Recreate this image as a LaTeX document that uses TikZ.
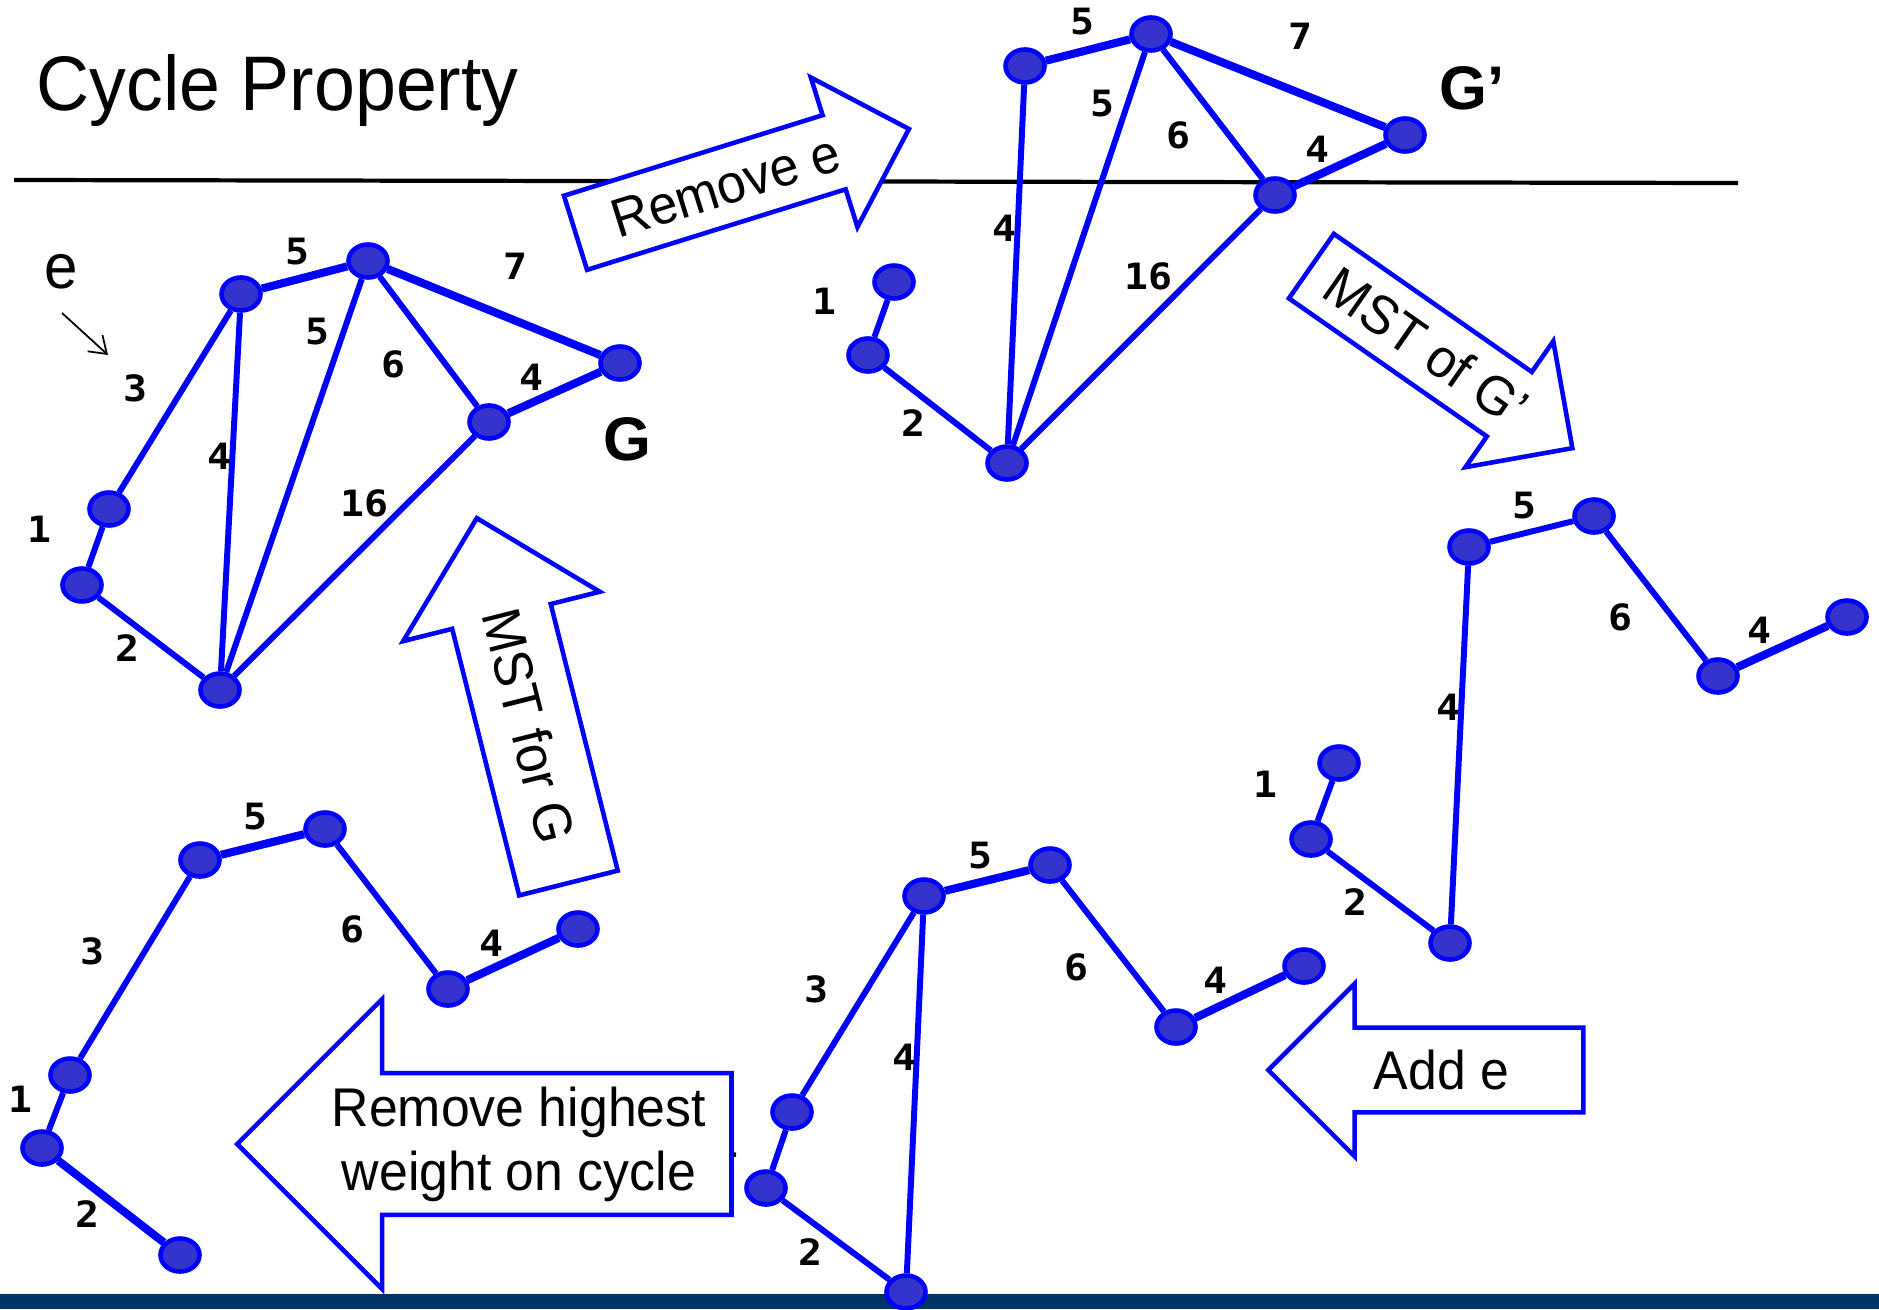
\documentclass[tikz,border=0pt]{standalone}
\usepackage{fontspec}
\setmainfont[FakeStretch=0.95]{Liberation Sans}
\newfontfamily\wtfont[FakeStretch=1.1]{DejaVu Sans Mono}
\newfontfamily\gfont{Liberation Sans}
\usetikzlibrary{shapes.geometric, shapes.arrows, arrows.meta, calc, backgrounds}
\definecolor{vtxfill}{RGB}{51,51,204}
\definecolor{barnavy}{RGB}{0,51,102}

\begin{document}
\begin{tikzpicture}[
    x=0.01cm, y=-0.01cm,
    vtx/.style={ellipse, draw=blue, fill=vtxfill, line width=1.3pt,
        minimum width=0.39cm, minimum height=0.33cm, inner sep=0pt},
    edge/.style={blue, line width=1.7pt},
    heavy/.style={blue, line width=2.3pt},
    wt/.style={font=\wtfont\bfseries\fontsize{10.3}{12}\selectfont, inner sep=0pt},
    gname/.style={font=\gfont\bfseries\fontsize{17.5}{20}\selectfont, inner sep=0pt},
    bigarrow/.style n args={4}{single arrow, draw=blue, fill=white,
        line width=1.3pt, anchor=tip, rotate=#1, minimum height=#2,
        minimum width=#3, inner xsep=0pt, inner ysep=#4/2,
        single arrow head extend=(#3-#4)/2, single arrow head indent=0pt},
    tag/.style={font=\fontsize{15.5}{18.2}\selectfont, align=center, inner sep=0pt}
]
    \useasboundingbox (0,0) rectangle (1879,1309);

    % Title and rule
    \node[font=\fontsize{22}{26}\selectfont, anchor=base west, inner sep=0pt] (title) at (36,110) {Cycle Property};
    \coordinate (rule_l) at (14,180);
    \coordinate (rule_r) at (1738,183);
    \coordinate (bar_l) at (0,1294);
    \coordinate (bar_r) at (1879,1309);

    % Graph G
    \node[vtx] (g_a) at (241,294) {};
    \node[vtx] (g_b) at (368,261) {};
    \node[vtx] (g_c) at (620,363) {};
    \node[vtx] (g_d) at (489,422) {};
    \node[vtx] (g_u) at (109,509) {};
    \node[vtx] (g_v) at (82,585) {};
    \node[vtx] (g_w) at (220,690) {};
    \node[gname] (g_name) at (627,439) {G};
    \node[font=\fontsize{18}{20}\selectfont, inner sep=0pt] (e_name) at (61,272) {e};
    \coordinate (e_from) at (62,313);
    \coordinate (e_to) at (108,355);
    \draw[line width=0.5pt, -{Straight Barb[length=1.6mm, width=2.2mm]}] (e_from) -- (e_to);

    % Graph G' (e removed)
    \node[vtx] (h_a) at (1025,66) {};
    \node[vtx] (h_b) at (1151,34) {};
    \node[vtx] (h_c) at (1405,135) {};
    \node[vtx] (h_d) at (1275,195) {};
    \node[vtx] (h_u) at (894,282) {};
    \node[vtx] (h_v) at (868,355) {};
    \node[vtx] (h_w) at (1007,463) {};
    \node[gname] (h_name) at (1472,88) {G’};

    % MST of G'
    \node[vtx] (m_a) at (1469,547) {};
    \node[vtx] (m_b) at (1594,516) {};
    \node[vtx] (m_d) at (1718,676) {};
    \node[vtx] (m_c) at (1847,617) {};
    \node[vtx] (m_u) at (1339,763) {};
    \node[vtx] (m_v) at (1311,839) {};
    \node[vtx] (m_w) at (1450,943) {};

    % MST of G' plus e
    \node[vtx] (p_a) at (924,896) {};
    \node[vtx] (p_b) at (1050,865) {};
    \node[vtx] (p_d) at (1176,1027) {};
    \node[vtx] (p_c) at (1304,966) {};
    \node[vtx] (p_u) at (792,1112) {};
    \node[vtx] (p_v) at (766,1188) {};
    \node[vtx] (p_w) at (906,1292) {};

    % MST for G
    \node[vtx] (r_a) at (200,860) {};
    \node[vtx] (r_b) at (325,829) {};
    \node[vtx] (r_d) at (448,989) {};
    \node[vtx] (r_c) at (578,929) {};
    \node[vtx] (r_u) at (70,1075) {};
    \node[vtx] (r_v) at (42,1148) {};
    \node[vtx] (r_w) at (180,1255) {};

    \begin{pgfonlayer}{background}
        \fill[barnavy] (bar_l) rectangle (bar_r);
        \draw[line width=1.2pt] (rule_l) -- (rule_r);
        % edges of G
        \draw[edge] (g_u) -- (g_a);
        \draw[edge] (g_u) -- (g_v);
        \draw[edge] (g_v) -- (g_w);
        \draw[heavy] (g_a) -- (g_b);
        \draw[edge] (g_a) -- (g_w);
        \draw[edge] (g_b) -- (g_w);
        \draw[edge] (g_b) -- (g_d);
        \draw[heavy] (g_b) -- (g_c);
        \draw[heavy] (g_c) -- (g_d);
        \draw[edge] (g_d) -- (g_w);
        % edges of G'
        \draw[edge] (h_u) -- (h_v);
        \draw[edge] (h_v) -- (h_w);
        \draw[heavy] (h_a) -- (h_b);
        \draw[edge] (h_a) -- (h_w);
        \draw[edge] (h_b) -- (h_w);
        \draw[edge] (h_b) -- (h_d);
        \draw[heavy] (h_b) -- (h_c);
        \draw[heavy] (h_c) -- (h_d);
        \draw[edge] (h_d) -- (h_w);
        % edges of MST of G'
        \draw[edge] (m_u) -- (m_v);
        \draw[edge] (m_v) -- (m_w);
        \draw[edge] (m_w) -- (m_a);
        \draw[edge] (m_a) -- (m_b);
        \draw[edge] (m_b) -- (m_d);
        \draw[heavy] (m_d) -- (m_c);
        % edges with e added
        \draw[edge] (p_u) -- (p_a);
        \draw[edge] (p_u) -- (p_v);
        \draw[edge] (p_v) -- (p_w);
        \draw[edge] (p_w) -- (p_a);
        \draw[heavy] (p_a) -- (p_b);
        \draw[edge] (p_b) -- (p_d);
        \draw[heavy] (p_d) -- (p_c);
        % edges of MST for G
        \draw[edge] (r_u) -- (r_a);
        \draw[edge] (r_u) -- (r_v);
        \draw[heavy] (r_v) -- (r_w);
        \draw[heavy] (r_a) -- (r_b);
        \draw[edge] (r_b) -- (r_d);
        \draw[heavy] (r_d) -- (r_c);
    \end{pgfonlayer}

    % Weights
    \node[wt] (g_ab_w) at (297,252) {5};
    \node[wt] (g_bc_w) at (515,266) {7};
    \node[wt] (g_bw_w) at (317,332) {5};
    \node[wt] (g_bd_w) at (393,364) {6};
    \node[wt] (g_cd_w) at (531,377) {4};
    \node[wt] (g_ua_w) at (135,388) {3};
    \node[wt] (g_aw_w) at (219,456) {4};
    \node[wt] (g_dw_w) at (364,503) {16};
    \node[wt] (g_uv_w) at (39,529) {1};
    \node[wt] (g_vw_w) at (127,648) {2};

    \node[wt] (h_ab_w) at (1082,22) {5};
    \node[wt] (h_bc_w) at (1300,36) {7};
    \node[wt] (h_bw_w) at (1102,104) {5};
    \node[wt] (h_bd_w) at (1178,135) {6};
    \node[wt] (h_cd_w) at (1317,149) {4};
    \node[wt] (h_aw_w) at (1004,228) {4};
    \node[wt] (h_dw_w) at (1148,276) {16};
    \node[wt] (h_uv_w) at (824,301) {1};
    \node[wt] (h_vw_w) at (913,423) {2};

    \node[wt] (m_ab_w) at (1524,506) {5};
    \node[wt] (m_bd_w) at (1620,617) {6};
    \node[wt] (m_dc_w) at (1759,630) {4};
    \node[wt] (m_wa_w) at (1448,707) {4};
    \node[wt] (m_uv_w) at (1265,784) {1};
    \node[wt] (m_vw_w) at (1355,902) {2};

    \node[wt] (p_ab_w) at (980,856) {5};
    \node[wt] (p_ua_w) at (816,989) {3};
    \node[wt] (p_bd_w) at (1076,967) {6};
    \node[wt] (p_dc_w) at (1215,980) {4};
    \node[wt] (p_wa_w) at (904,1057) {4};
    \node[wt] (p_uv_w) at (726,1144) {1};
    \node[wt] (p_vw_w) at (810,1252) {2};

    \node[wt] (r_ab_w) at (255,817) {5};
    \node[wt] (r_ua_w) at (92,951) {3};
    \node[wt] (r_bd_w) at (352,929) {6};
    \node[wt] (r_dc_w) at (491,943) {4};
    \node[wt] (r_uv_w) at (20,1099) {1};
    \node[wt] (r_vw_w) at (87,1214) {2};

    % Block arrows
    \node[bigarrow={17.3}{3.49cm}{1.52cm}{0.73cm}] (remove_e) at (912,128) {};
    \node[tag, rotate=17.3] (remove_e_txt) at ($(remove_e.tail)!0.45!(remove_e.tip)$) {Remove e};

    \node[bigarrow={-34.9}{3.18cm}{1.49cm}{0.74cm}] (mst_gp) at (1575,450) {};
    \node[tag, rotate=-34.9] (mst_gp_txt) at ($(mst_gp.tail)!0.44!(mst_gp.tip)$) {MST of G'};

    \node[bigarrow={104.1}{3.76cm}{1.98cm}{0.97cm}] (mst_g) at (476,515) {};
    \node[tag, rotate=-75.9] (mst_g_txt) at ($(mst_g.tail)!0.43!(mst_g.tip)$) {MST for G};

    \node[bigarrow={180}{3.15cm}{1.68cm}{0.80cm}] (add_e) at (1265,1070) {};
    \node[tag] (add_e_txt) at ($(add_e.tail)!0.45!(add_e.tip)$) {Add e};

    \node[bigarrow={180}{4.94cm}{2.85cm}{1.37cm}] (rm_high) at (234,1144) {};
    \node[tag] (rm_high_txt) at ($(rm_high.tail)!0.43!(rm_high.tip)$) {Remove highest\\weight on cycle};

\end{tikzpicture}
\end{document}
